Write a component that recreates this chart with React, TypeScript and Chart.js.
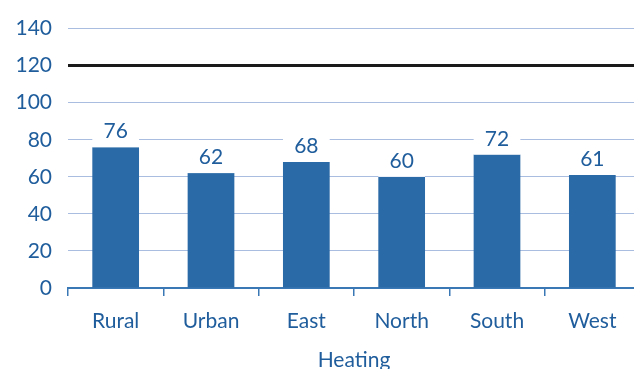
import React, { useEffect, useRef } from "react";
import { Chart, registerables } from "chart.js";

Chart.register(...registerables);

const categories = ["Rural", "Urban", "East", "North", "South", "West"];
const heatingValues = [76, 62, 68, 60, 72, 61];
const yTicks = [0, 20, 40, 60, 80, 100, 120, 140];
const referenceLevel = 120;
const axisTitle = "Heating";

const TEXT_COLOR = "#1f5d9c";
const BAR_COLOR = "#2a6aa6";
const GRID_COLOR = "#a9bde0";
const AXIS_COLOR = "#3a78b5";
const FONT_FAMILY = "Lato, 'Noto Sans', sans-serif";
const FONT_SIZE = 21;

// Draws each bar's value above it on a white backing strip
const valueLabels = {
  id: "valueLabels",
  afterDatasetsDraw(chart: any) {
    const { ctx } = chart;
    const meta = chart.getDatasetMeta(0);
    const data = chart.data.datasets[0].data as number[];
    ctx.save();
    ctx.font = `${FONT_SIZE}px ${FONT_FAMILY}`;
    ctx.textAlign = "center";
    ctx.textBaseline = "alphabetic";
    meta.data.forEach((bar: any, i: number) => {
      const w = bar.width;
      const textBase = bar.y - 9;
      ctx.fillStyle = "#ffffff";
      ctx.fillRect(bar.x - w / 2, textBase - 18, w, bar.y - (textBase - 18));
      ctx.fillStyle = TEXT_COLOR;
      ctx.fillText(String(data[i]), bar.x, textBase);
    });
    ctx.restore();
  },
};

export default function App() {
  const canvasRef = useRef<HTMLCanvasElement | null>(null);

  useEffect(() => {
    if (!canvasRef.current) return;
    const chart = new Chart(canvasRef.current, {
      type: "bar",
      data: {
        labels: categories,
        datasets: [
          {
            data: heatingValues,
            backgroundColor: BAR_COLOR,
            borderWidth: 0,
            categoryPercentage: 1,
            barPercentage: 0.49,
          },
        ],
      },
      options: {
        animation: false,
        responsive: false,
        maintainAspectRatio: false,
        layout: { padding: { top: -1, left: 0, right: 0, bottom: 0 } },
        plugins: {
          legend: { display: false },
          tooltip: { enabled: false },
        },
        scales: {
          x: {
            offset: true,
            grid: {
              display: true,
              offset: true,
              drawOnChartArea: false,
              drawTicks: true,
              tickLength: 8,
              color: AXIS_COLOR,
              lineWidth: 1.5,
            },
            border: { display: true, color: AXIS_COLOR, width: 2 },
            ticks: {
              color: TEXT_COLOR,
              font: { family: FONT_FAMILY, size: FONT_SIZE },
              padding: 13,
              maxRotation: 0,
            },
            title: {
              display: true,
              text: axisTitle,
              color: TEXT_COLOR,
              font: { family: FONT_FAMILY, size: FONT_SIZE, lineHeight: 1 },
              padding: { top: 0, bottom: -2 },
            },
            afterFit(scale: any) {
              scale.height = 81;
            },
          },
          y: {
            min: 0,
            max: 140,
            afterBuildTicks(scale: any) {
              scale.ticks = yTicks.map((v) => ({ value: v }));
            },
            grid: {
              drawTicks: false,
              color: (c: any) =>
                c.tick && c.tick.value === referenceLevel ? "#1a1a1a" : GRID_COLOR,
              lineWidth: (c: any) =>
                c.tick && c.tick.value === referenceLevel ? 3 : 1,
            },
            border: { display: false },
            ticks: {
              color: TEXT_COLOR,
              font: { family: FONT_FAMILY, size: FONT_SIZE },
              padding: 16,
            },
            afterFit(scale: any) {
              scale.width = 68;
            },
          },
        },
      },
      plugins: [valueLabels],
    });
    return () => chart.destroy();
  }, []);

  return (
    <div style={{ position: "fixed", left: 0, top: 0, width: 640, height: 369, background: "#fff" }}>
      <canvas ref={canvasRef} width={640} height={369} style={{ display: "block" }} />
    </div>
  );
}
